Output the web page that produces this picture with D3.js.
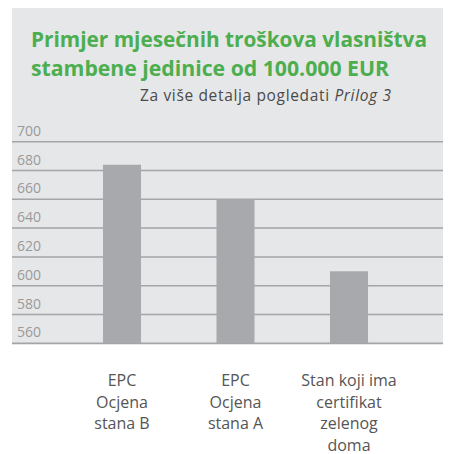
<!DOCTYPE html>
<html>
<head>
<meta charset="utf-8">
<script src="https://cdn.jsdelivr.net/npm/d3@7"></script>
<style>
  html, body { margin: 0; padding: 0; background: #ffffff; }
  svg { display: block; }
</style>
</head>
<body>
<svg id="chart" width="449" height="454"></svg>
<script>
const categories = [
  ["EPC", "Ocjena", "stana B"],
  ["EPC", "Ocjena", "stana A"],
  ["Stan koji ima", "certifikat", "zelenog", "doma"]
];
const categoryKeys = ["B", "A", "G"];
const values = [684, 660, 610];
const yTicks = [560, 580, 600, 620, 640, 660, 680, 700];
const titleLines = ["Primjer mjesečnih troškova vlasništva", "stambene jedinice od 100.000 EUR"];
const titleWidths = [396, 358];
const subtitleMain = "Za više detalja pogledati ";
const subtitleItalic = "Prilog 3";

const svg = d3.select("#chart");
const font = "'Open Sans', 'Noto Sans', sans-serif";

// panel
svg.append("rect").attr("x", 12).attr("y", 8).attr("width", 431).attr("height", 337).attr("fill", "#e6e7e8");

// title
svg.append("g").selectAll("text").data(titleLines).join("text")
  .attr("font-family", font).attr("font-weight", 700).attr("font-size", 21.5)
  .attr("fill", "#4cae4f")
  .attr("x", 31).attr("y", (d, i) => 47 + i * 29)
  .attr("textLength", (d, i) => titleWidths[i])
  .attr("lengthAdjust", "spacingAndGlyphs")
  .text(d => d);

const sub = svg.append("text").attr("font-family", font).attr("font-size", 15.5).attr("fill", "#4a4a4a")
  .attr("x", 140).attr("y", 101).attr("textLength", 251).attr("lengthAdjust", "spacing");
sub.append("tspan").text(subtitleMain);
sub.append("tspan").attr("font-style", "italic").text(subtitleItalic);

// scales
const x = d3.scaleBand().domain(categoryKeys).range([65.25, 405.75]).paddingInner(0.665).paddingOuter(0.3325);
const y = d3.scaleLinear().domain([560, 700]).range([343.3, 141.7]);

// gridlines
svg.append("g").selectAll("line").data(yTicks).join("line")
  .attr("x1", 12).attr("x2", 443)
  .attr("y1", d => y(d)).attr("y2", d => y(d))
  .attr("stroke", "#a3a5a8").attr("stroke-width", 1.5);

// y labels
svg.append("g").selectAll("text").data(yTicks).join("text")
  .attr("x", 17).attr("y", d => y(d) - 6)
  .attr("font-family", font).attr("font-size", 14).attr("fill", "#9a9a9a")
  .text(d => d);

// bars
svg.append("g").selectAll("rect").data(values).join("rect")
  .attr("x", (d, i) => x(categoryKeys[i]))
  .attr("width", x.bandwidth())
  .attr("y", d => y(d))
  .attr("height", d => y(560) - y(d))
  .attr("fill", "#a7a9ac");

// category labels
const cl = svg.append("g").selectAll("text").data(categories).join("text")
  .attr("font-family", font).attr("font-size", 16).attr("fill", "#555555")
  .attr("text-anchor", "middle");
cl.selectAll("tspan").data((d, i) => d.map(t => ({t, i}))).join("tspan")
  .attr("x", d => x(categoryKeys[d.i]) + x.bandwidth() / 2)
  .attr("y", (d, j) => 386 + j * 21.5)
  .text(d => d.t);
</script>
</body>
</html>
